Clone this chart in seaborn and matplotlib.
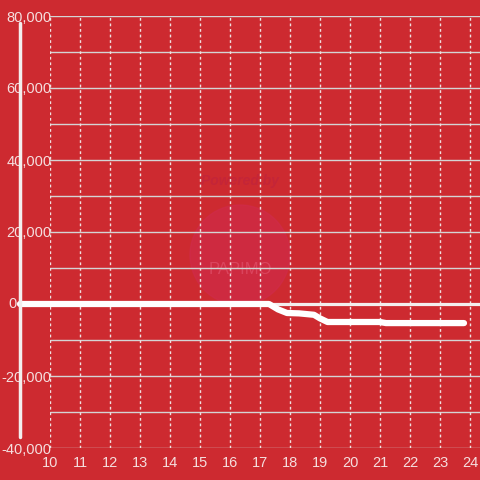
import numpy as np
import pandas as pd
import seaborn as sns
import matplotlib.pyplot as plt
from matplotlib.patches import Circle

# values
hours = [9, 10, 11, 12, 13, 14, 15, 16, 17, 17.3, 17.6, 17.9, 18.3, 18.8, 19.0, 19.25,
         20, 21, 21.2, 22, 23, 23.8]
balance = [0, 0, 0, 0, 0, 0, 0, 0, 0, 0, -1500, -2500, -2600, -3000, -4000, -5000,
           -5000, -5000, -5300, -5300, -5300, -5300]
x_ticks = list(range(10, 25))
y_ticks = [-40000, -20000, 0, 20000, 40000, 60000, 80000]

bg = '#cd2a30'
fg = '#f5dede'

sns.set_style("white")
plt.rcParams['font.family'] = ['Liberation Sans', 'DejaVu Sans']

fig = plt.figure(figsize=(4.8, 4.8), dpi=100, facecolor=bg)
ax = fig.add_axes([50 / 480, 32 / 480, 430 / 480, 432 / 480], facecolor=bg)

# watermark (under the data)
ax.add_patch(Circle((240 / 480, 1 - 255 / 480), 50 / 480, transform=fig.transFigure,
                    color='#d02a4c', alpha=0.6, zorder=0.5, clip_on=False))
ax.text(240 / 480, 1 - 270 / 480, 'PAPIMO', color='#e0506a', fontsize=12,
        ha='center', va='center', alpha=0.7, zorder=0.6, transform=fig.transFigure)
ax.text(240 / 480, 1 - 181 / 480, 'Powered by', color='#c42538', fontsize=10,
        ha='center', va='center', style='italic', weight='bold', zorder=0.6,
        transform=fig.transFigure)

df = pd.DataFrame({'hour': hours, 'balance': balance})

# grid
for v in range(-40000, 80001, 10000):
    ax.axhline(v, color='#d4d4d4', lw=1, zorder=1)
for h in x_ticks:
    ax.axvline(h, color='#f0e0e0', lw=1, ls=(0, (2, 2)), zorder=1)
ax.axhline(0, color='#f3eeee', lw=2.3, zorder=2)

sns.lineplot(data=df, x='hour', y='balance', ax=ax, color='white', lw=4.5,
             clip_on=False, zorder=3)

# offset white axis bar
ax.plot([-0.07, -0.07], [-37000, 78000], color='#f3eeee', lw=2.5,
        transform=ax.get_yaxis_transform(), clip_on=False, zorder=3)

ax.set_xlim(10, 10 + 430 / 30)
ax.set_ylim(-40000, 80000)
ax.set_xticks(x_ticks)
ax.set_yticks(y_ticks)
ax.set_yticklabels(['{:,}'.format(v) if v != 0 else '' for v in y_ticks])
ax.tick_params(axis='both', length=0, colors=fg, labelsize=10.5)
ax.tick_params(axis='x', pad=6)
ax.tick_params(axis='y', pad=-1)
ax.set_xlabel('')
ax.set_ylabel('')
for s in ax.spines.values():
    s.set_visible(False)

# the zero label sits left of the axis bar
fig.text(8 / 480, 1 - 304 / 480, '0', color=fg, fontsize=10.5, ha='left', va='center')

fig.savefig('out.png', dpi=100, facecolor=bg)
